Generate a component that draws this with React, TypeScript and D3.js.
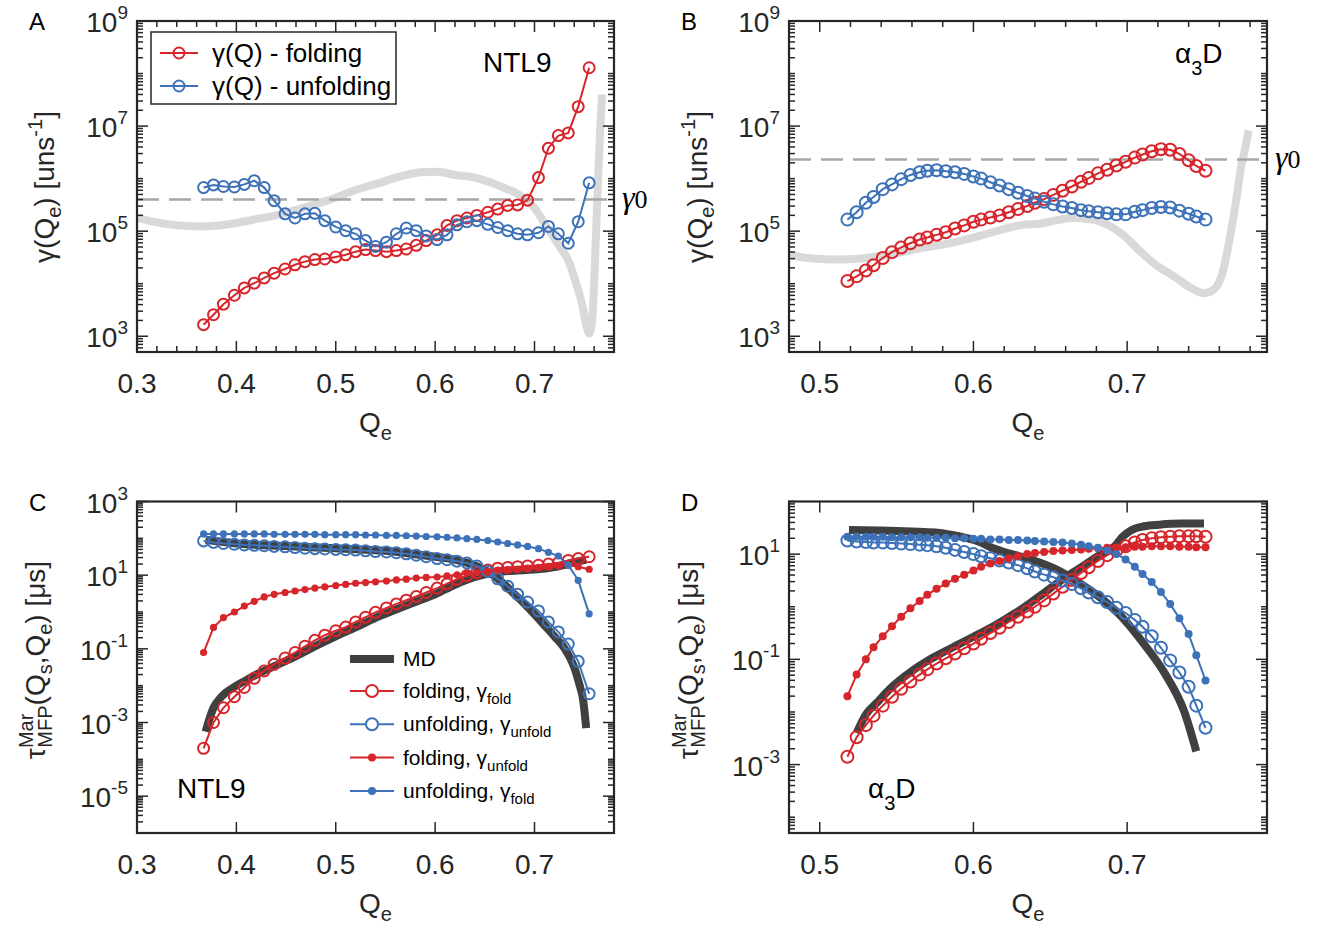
import React from "react";
import * as d3 from "d3";

// ---------- data: values are log10 of what the figure plots ----------

// NTL9 (panels A, C)
const qNTL9 = [
  0.367, 0.377, 0.387, 0.398, 0.408, 0.418, 0.428, 0.438, 0.449, 0.459,
  0.469, 0.479, 0.489, 0.5, 0.51, 0.52, 0.53, 0.54, 0.551, 0.561,
  0.571, 0.581, 0.591, 0.602, 0.612, 0.622, 0.632, 0.642, 0.653, 0.663,
  0.673, 0.683, 0.693, 0.704, 0.714, 0.724, 0.734, 0.744, 0.755,
];
const gammaFoldNTL9 = [
  3.22, 3.41, 3.61, 3.78, 3.92, 4.01, 4.11, 4.2, 4.28, 4.36,
  4.42, 4.46, 4.47, 4.51, 4.55, 4.61, 4.65, 4.63, 4.61, 4.63,
  4.66, 4.73, 4.82, 4.93, 5.11, 5.2, 5.25, 5.3, 5.36, 5.42,
  5.49, 5.5, 5.59, 6.02, 6.58, 6.82, 6.87, 7.37, 8.11,
];
const gammaUnfoldNTL9 = [
  5.83, 5.88, 5.85, 5.84, 5.89, 5.96, 5.83, 5.58, 5.33, 5.25,
  5.33, 5.34, 5.2, 5.08, 5.01, 4.95, 4.82, 4.71, 4.79, 4.95,
  5.06, 5.01, 4.91, 4.84, 4.93, 5.12, 5.18, 5.2, 5.13, 5.07,
  5.01, 4.95, 4.93, 4.97, 5.09, 4.95, 4.77, 5.18, 5.92,
];
const qProfileNTL9 = [
  0.3, 0.316, 0.341, 0.366, 0.392, 0.417, 0.442, 0.468, 0.493, 0.518,
  0.544, 0.569, 0.586, 0.603, 0.62, 0.637, 0.654, 0.67, 0.687, 0.7,
  0.713, 0.725, 0.735, 0.742, 0.748, 0.752, 0.755, 0.758, 0.76, 0.762,
  0.764, 0.766, 0.768,
];
const profileNTL9 = [
  5.26, 5.18, 5.11, 5.09, 5.13, 5.22, 5.31, 5.45, 5.59, 5.77,
  5.92, 6.06, 6.12, 6.13, 6.07, 6.03, 5.94, 5.82, 5.66, 5.44,
  5.06, 4.72, 4.4, 4.0, 3.6, 3.22, 3.05, 3.3, 4.0, 5.0,
  6.0, 6.9, 7.6,
];
const gamma0NTL9 = 4.0e5;

const tauFoldGfNTL9 = [
  -3.7, -3.0, -2.6, -2.3, -2.05, -1.8, -1.6, -1.42, -1.25, -1.1,
  -0.93, -0.77, -0.63, -0.51, -0.41, -0.27, -0.14, -0.01, 0.11, 0.22,
  0.32, 0.42, 0.53, 0.65, 0.77, 0.89, 0.99, 1.07, 1.14, 1.19,
  1.21, 1.23, 1.25, 1.27, 1.3, 1.34, 1.4, 1.45, 1.5,
];
const tauUnfoldGuNTL9 = [
  1.93, 1.89, 1.86, 1.84, 1.82, 1.81, 1.8, 1.78, 1.77, 1.75,
  1.73, 1.72, 1.71, 1.7, 1.69, 1.68, 1.66, 1.64, 1.63, 1.61,
  1.58, 1.54, 1.5, 1.45, 1.42, 1.38, 1.33, 1.25, 1.1, 0.9,
  0.7, 0.48, 0.27, 0.03, -0.27, -0.54, -0.87, -1.34, -2.22,
];
const tauFoldGuNTL9 = [
  -1.1, -0.42, -0.15, 0.0, 0.16, 0.29, 0.41, 0.48, 0.53, 0.57,
  0.61, 0.65, 0.68, 0.72, 0.75, 0.78, 0.8, 0.82, 0.84, 0.87,
  0.89, 0.92, 0.94, 0.95, 0.98, 1.01, 1.05, 1.07, 1.11, 1.14,
  1.15, 1.16, 1.19, 1.21, 1.24, 1.25, 1.27, 1.23, 1.16,
];
const tauUnfoldGfNTL9 = [
  2.12, 2.12, 2.12, 2.12, 2.12, 2.12, 2.12, 2.11, 2.11, 2.11,
  2.11, 2.11, 2.1, 2.1, 2.1, 2.1, 2.09, 2.09, 2.08, 2.08,
  2.07, 2.06, 2.05, 2.04, 2.03, 2.01, 1.99, 1.97, 1.94, 1.9,
  1.86, 1.82, 1.78, 1.72, 1.62, 1.52, 1.27, 0.86, -0.05,
];
const qMdFoldNTL9 = [
  0.369, 0.377, 0.385, 0.397, 0.41, 0.42, 0.44, 0.46, 0.48, 0.5, 0.52, 0.54,
  0.56, 0.58, 0.6, 0.62, 0.64, 0.66, 0.68, 0.7, 0.72, 0.74, 0.752,
];
const mdFoldNTL9 = [
  -3.25, -2.6, -2.3, -2.05, -1.85, -1.7, -1.45, -1.2, -0.92, -0.66, -0.42, -0.16,
  0.06, 0.27, 0.48, 0.74, 0.95, 1.07, 1.12, 1.15, 1.22, 1.35, 1.42,
];
const qMdUnfoldNTL9 = [
  0.369, 0.4, 0.45, 0.5, 0.55, 0.58, 0.6, 0.62, 0.64, 0.65, 0.66,
  0.67, 0.68, 0.69, 0.7, 0.71, 0.72, 0.73, 0.74, 0.745, 0.749, 0.752,
];
const mdUnfoldNTL9 = [
  1.96, 1.86, 1.79, 1.73, 1.66, 1.57, 1.5, 1.42, 1.26, 1.14, 0.97,
  0.74, 0.48, 0.22, -0.06, -0.36, -0.66, -0.98, -1.5, -1.95, -2.4, -3.15,
];

// alpha3D (panels B, D)
const qA3D = [
  0.518, 0.524, 0.53, 0.535, 0.541, 0.547, 0.553, 0.559, 0.565, 0.57,
  0.576, 0.582, 0.588, 0.594, 0.6, 0.605, 0.611, 0.617, 0.623, 0.629,
  0.635, 0.64, 0.646, 0.652, 0.658, 0.664, 0.67, 0.675, 0.681, 0.687,
  0.693, 0.699, 0.705, 0.71, 0.716, 0.722, 0.728, 0.734, 0.74, 0.745, 0.751,
];
const gammaFoldA3D = [
  4.05, 4.14, 4.25, 4.35, 4.49, 4.6, 4.69, 4.77, 4.84, 4.88,
  4.93, 4.98, 5.05, 5.11, 5.18, 5.22, 5.26, 5.3, 5.36, 5.42,
  5.48, 5.54, 5.61, 5.69, 5.77, 5.85, 5.94, 6.01, 6.1, 6.17,
  6.25, 6.32, 6.4, 6.46, 6.52, 6.56, 6.55, 6.47, 6.35, 6.24, 6.15,
];
const gammaUnfoldA3D = [
  5.22, 5.36, 5.54, 5.65, 5.8, 5.89, 5.99, 6.07, 6.12, 6.15,
  6.16, 6.14, 6.12, 6.09, 6.04, 6.0, 5.93, 5.87, 5.8, 5.73,
  5.67, 5.62, 5.56, 5.51, 5.47, 5.44, 5.4, 5.38, 5.36, 5.34,
  5.32, 5.32, 5.37, 5.4, 5.44, 5.46, 5.45, 5.39, 5.33, 5.28, 5.22,
];
const qProfileA3D = [
  0.48, 0.489, 0.5, 0.511, 0.522, 0.533, 0.544, 0.555, 0.566, 0.577,
  0.588, 0.599, 0.61, 0.621, 0.632, 0.643, 0.653, 0.664, 0.675, 0.686,
  0.697, 0.708, 0.719, 0.73, 0.741, 0.75, 0.756, 0.762, 0.767, 0.771,
  0.774, 0.777, 0.779,
];
const profileA3D = [
  4.56, 4.5, 4.47, 4.46, 4.47, 4.5, 4.55, 4.61, 4.68, 4.73,
  4.79, 4.87, 4.96, 5.05, 5.12, 5.14, 5.2, 5.25, 5.23, 5.14,
  4.94, 4.63, 4.35, 4.15, 3.93, 3.82, 3.88, 4.2, 4.9, 5.6,
  6.2, 6.6, 6.92,
];
const gamma0A3D = 2.3e6;

const tauFoldGfA3D = [
  -2.85, -2.48, -2.25, -2.07, -1.88, -1.71, -1.56, -1.42, -1.29, -1.19,
  -1.08, -0.98, -0.89, -0.79, -0.7, -0.61, -0.5, -0.4, -0.29, -0.19,
  -0.09, 0.0, 0.12, 0.25, 0.38, 0.51, 0.64, 0.75, 0.87, 0.98,
  1.07, 1.15, 1.22, 1.27, 1.3, 1.32, 1.33, 1.34, 1.34, 1.34, 1.33,
];
const tauUnfoldGuA3D = [
  1.26, 1.24, 1.23, 1.22, 1.22, 1.21, 1.2, 1.19, 1.18, 1.17,
  1.15, 1.12, 1.08, 1.04, 1.0, 0.96, 0.92, 0.88, 0.84, 0.79,
  0.73, 0.67, 0.61, 0.56, 0.5, 0.43, 0.35, 0.27, 0.18, 0.09,
  -0.02, -0.12, -0.25, -0.38, -0.56, -0.78, -1.02, -1.25, -1.52, -1.88, -2.3,
];
const tauFoldGuA3D = [
  -1.7, -1.29, -1.0, -0.77, -0.56, -0.37, -0.19, -0.03, 0.11, 0.23,
  0.34, 0.44, 0.53, 0.61, 0.69, 0.76, 0.82, 0.87, 0.92, 0.96,
  1.0, 1.02, 1.04, 1.06, 1.07, 1.08, 1.09, 1.1, 1.11, 1.12,
  1.12, 1.13, 1.14, 1.14, 1.15, 1.15, 1.15, 1.14, 1.14, 1.13, 1.13,
];
const tauUnfoldGfA3D = [
  1.33, 1.33, 1.33, 1.33, 1.33, 1.32, 1.32, 1.32, 1.32, 1.31,
  1.31, 1.31, 1.3, 1.3, 1.29, 1.29, 1.28, 1.28, 1.27, 1.27,
  1.26, 1.25, 1.24, 1.23, 1.22, 1.2, 1.18, 1.15, 1.12, 1.07,
  1.0, 0.9, 0.76, 0.62, 0.47, 0.28, 0.05, -0.22, -0.52, -0.92, -1.4,
];
const qMdFoldA3D = [
  0.524, 0.53, 0.538, 0.545, 0.552, 0.56, 0.57, 0.58, 0.59, 0.6, 0.61, 0.62,
  0.63, 0.643, 0.656, 0.67, 0.684, 0.692, 0.697, 0.703, 0.711, 0.721, 0.735, 0.75,
];
const mdFoldA3D = [
  -2.4, -2.05, -1.8, -1.58, -1.4, -1.22, -1.03, -0.87, -0.72, -0.57, -0.42, -0.25,
  -0.07, 0.2, 0.48, 0.75, 1.02, 1.15, 1.33, 1.46, 1.53, 1.56, 1.58, 1.58,
];
const qMdUnfoldA3D = [
  0.519, 0.54, 0.56, 0.575, 0.585, 0.595, 0.605, 0.612, 0.62, 0.63,
  0.643, 0.656, 0.67, 0.684, 0.697, 0.711, 0.725, 0.737, 0.745,
];
const mdUnfoldA3D = [
  1.46, 1.45, 1.43, 1.41, 1.37, 1.31, 1.22, 1.12, 1.04, 0.96,
  0.84, 0.68, 0.43, 0.14, -0.21, -0.71, -1.29, -1.98, -2.75,
];

const xTicksNTL9 = [0.3, 0.4, 0.5, 0.6, 0.7];
const xTicksA3D = [0.5, 0.6, 0.7];

// ---------- styling ----------
const RED = "#d7262b";
const BLUE = "#3d72b8";
const AXIS = "#262626";
const PROFILE = "#d9d9d9";
const MD = "#404040";
const FONT = "'Liberation Sans', Arial, Helvetica, sans-serif";
const SERIF = "'Liberation Serif', 'DejaVu Serif', serif";
const TICK_MAJ = 11;
const TICK_MIN = 6;

type Box = { left: number; right: number; top: number; bottom: number };
type Sx = d3.ScaleLinear<number, number>;
type Sy = d3.ScaleLogarithmic<number, number>;

const boxA: Box = { left: 137, right: 614, top: 21, bottom: 352 };
const boxB: Box = { left: 789, right: 1267, top: 21, bottom: 352 };
const boxC: Box = { left: 137, right: 614, top: 501.5, bottom: 833 };
const boxD: Box = { left: 789, right: 1267, top: 501.5, bottom: 833 };

function minorTicks(lo: number, hi: number) {
  return d3
    .range(Math.round(lo * 50), Math.round(hi * 50) + 1)
    .map((k) => k / 50)
    .filter((v) => Math.abs(v * 10 - Math.round(v * 10)) > 1e-6);
}

function linePath(x: Sx, y: Sy, qs: number[], vals: number[], curve = d3.curveLinear) {
  return (
    d3
      .line<number>()
      .x((_, i) => x(qs[i]))
      .y((v) => y(10 ** v))
      .curve(curve)(vals) || ""
  );
}

function Series(props: {
  x: Sx; y: Sy; qs: number[]; vals: number[]; color: string; filled?: boolean; r: number;
}) {
  const { x, y, qs, vals, color, filled, r } = props;
  return (
    <g>
      <path d={linePath(x, y, qs, vals)} fill="none" stroke={color} strokeWidth={2} />
      {vals.map((v, i) => (
        <circle
          key={i}
          cx={x(qs[i])}
          cy={y(10 ** v)}
          r={r}
          fill={filled ? color : "none"}
          stroke={color}
          strokeWidth={filled ? 0 : 2}
        />
      ))}
    </g>
  );
}

function Panel(props: {
  box: Box;
  xDomain: [number, number];
  yDomain: [number, number];
  xMajor: number[];
  xMinor: number[];
  yLabeled: number[];
  letter: string;
  yLabel: React.ReactNode;
  yLabelX: number;
  yLabelY: number;
  children: (x: Sx, y: Sy) => React.ReactNode;
}) {
  const { box, xDomain, yDomain, xMajor, xMinor, yLabeled, letter, yLabel, yLabelX, yLabelY } = props;
  const x = d3.scaleLinear().domain(xDomain).range([box.left, box.right]);
  const y = d3.scaleLog().domain(yDomain).range([box.bottom, box.top]);

  const ticks: React.ReactNode[] = [];
  xMajor.concat(xMinor).forEach((v, i) => {
    const len = i < xMajor.length ? TICK_MAJ : TICK_MIN;
    const px = x(v);
    ticks.push(<line key={`xb${i}`} x1={px} x2={px} y1={box.bottom} y2={box.bottom - len} />);
    ticks.push(<line key={`xt${i}`} x1={px} x2={px} y1={box.top} y2={box.top + len} />);
  });
  const lo = Math.floor(Math.log10(yDomain[0]));
  const hi = Math.ceil(Math.log10(yDomain[1]));
  for (let n = lo; n <= hi; n++) {
    for (let k = 1; k < 10; k++) {
      const v = k * 10 ** n;
      if (v < yDomain[0] * 0.9999 || v > yDomain[1] * 1.0001) continue;
      const len = k === 1 && yLabeled.includes(n) ? TICK_MAJ : TICK_MIN;
      const py = y(v);
      ticks.push(<line key={`yl${n}_${k}`} x1={box.left} x2={box.left + len} y1={py} y2={py} />);
      ticks.push(<line key={`yr${n}_${k}`} x1={box.right} x2={box.right - len} y1={py} y2={py} />);
    }
  }

  return (
    <g>
      {props.children(x, y)}
      <g stroke={AXIS} strokeWidth={1.5}>{ticks}</g>
      <rect
        x={box.left}
        y={box.top}
        width={box.right - box.left}
        height={box.bottom - box.top}
        fill="none"
        stroke={AXIS}
        strokeWidth={2.2}
      />
      <g fill={AXIS} fontSize={28}>
        {xMajor.map((v) => (
          <text key={v} x={x(v)} y={box.bottom + 41} textAnchor="middle">
            {d3.format(".1f")(v)}
          </text>
        ))}
        {yLabeled.map((n) => (
          <text key={n} x={box.left - 9} y={y(10 ** n) + 11} textAnchor="end">
            10<tspan dy={-13} fontSize={19}>{n < 0 ? `-${-n}` : n}</tspan>
          </text>
        ))}
        <text x={(box.left + box.right) / 2} y={box.bottom + 80} textAnchor="middle">
          Q<tspan dy={8} fontSize={20}>e</tspan>
        </text>
        <text transform={`translate(${yLabelX},${yLabelY}) rotate(-90)`} textAnchor="middle">
          {yLabel}
        </text>
      </g>
      <text x={box.left - 108} y={box.top + 9} fontSize={24} fill="#000">
        {letter}
      </text>
    </g>
  );
}

const gammaLabel = (
  <>
    γ(Q<tspan dy={7} fontSize={20}>e</tspan>
    <tspan dy={-7}>) [uns</tspan>
    <tspan dy={-12} fontSize={20}>-1</tspan>
    <tspan dy={12}>]</tspan>
  </>
);

const tauLabel = (
  <>
    τ<tspan dy={-12} fontSize={20}>Mar</tspan>
    <tspan dx={-34} dy={19} fontSize={20}>MFP</tspan>
    <tspan dy={-7}>(Q</tspan>
    <tspan dy={7} fontSize={20}>s</tspan>
    <tspan dy={-7}>,Q</tspan>
    <tspan dy={7} fontSize={20}>e</tspan>
    <tspan dy={-7}>) [μs]</tspan>
  </>
);

function Gamma0({ box, yv }: { box: Box; yv: number }) {
  return (
    <text x={box.right + 8} y={yv + 8} fontFamily={SERIF} fontSize={32} fill="#000">
      <tspan fontStyle="italic">γ</tspan>
      <tspan fontSize={26}>0</tspan>
    </text>
  );
}

const legendC = [
  { label: "folding, γ", sub: "fold", color: RED, filled: false },
  { label: "unfolding, γ", sub: "unfold", color: BLUE, filled: false },
  { label: "folding, γ", sub: "unfold", color: RED, filled: true },
  { label: "unfolding, γ", sub: "fold", color: BLUE, filled: true },
];

export default function App() {
  return (
    <svg
      width={1320}
      height={931}
      style={{ position: "absolute", left: 0, top: 0, background: "#fff" }}
      fontFamily={FONT}
    >
      {/* A */}
      <Panel
        box={boxA}
        xDomain={[0.3, 0.78]}
        yDomain={[10 ** 2.7, 1e9]}
        xMajor={xTicksNTL9}
        xMinor={minorTicks(0.3, 0.78)}
        yLabeled={[3, 5, 7, 9]}
        letter="A"
        yLabel={gammaLabel}
        yLabelX={54}
        yLabelY={187}
      >
        {(x, y) => (
          <>
            <path
              d={linePath(x, y, qProfileNTL9, profileNTL9, d3.curveMonotoneX)}
              fill="none"
              stroke={PROFILE}
              strokeWidth={8}
              strokeLinejoin="round"
            />
            <line
              x1={boxA.left}
              x2={boxA.right}
              y1={y(gamma0NTL9)}
              y2={y(gamma0NTL9)}
              stroke="#a6a6a6"
              strokeWidth={2.5}
              strokeDasharray="22 10"
            />
            <Series x={x} y={y} qs={qNTL9} vals={gammaFoldNTL9} color={RED} r={5.5} />
            <Series x={x} y={y} qs={qNTL9} vals={gammaUnfoldNTL9} color={BLUE} r={5.5} />
            <rect x={151} y={32} width={245} height={72} fill="#fff" stroke={AXIS} strokeWidth={1.5} />
            {[
              { t: "γ(Q) - folding", c: RED, yy: 53 },
              { t: "γ(Q) - unfolding", c: BLUE, yy: 86 },
            ].map((d) => (
              <g key={d.t}>
                <line x1={160} x2={198} y1={d.yy} y2={d.yy} stroke={d.c} strokeWidth={2} />
                <circle cx={179} cy={d.yy} r={5.5} fill="none" stroke={d.c} strokeWidth={2} />
                <text x={212} y={d.yy + 9} fontSize={26} fill="#000">
                  {d.t}
                </text>
              </g>
            ))}
            <text x={483} y={72} fontSize={28} fill="#000">
              NTL9
            </text>
            <Gamma0 box={boxA} yv={y(gamma0NTL9)} />
          </>
        )}
      </Panel>

      {/* B */}
      <Panel
        box={boxB}
        xDomain={[0.48, 0.791]}
        yDomain={[10 ** 2.7, 1e9]}
        xMajor={xTicksA3D}
        xMinor={minorTicks(0.48, 0.79)}
        yLabeled={[3, 5, 7, 9]}
        letter="B"
        yLabel={gammaLabel}
        yLabelX={707}
        yLabelY={187}
      >
        {(x, y) => (
          <>
            <path
              d={linePath(x, y, qProfileA3D, profileA3D, d3.curveMonotoneX)}
              fill="none"
              stroke={PROFILE}
              strokeWidth={8}
              strokeLinejoin="round"
            />
            <line
              x1={boxB.left}
              x2={boxB.right}
              y1={y(gamma0A3D)}
              y2={y(gamma0A3D)}
              stroke="#a6a6a6"
              strokeWidth={2.5}
              strokeDasharray="22 10"
            />
            <Series x={x} y={y} qs={qA3D} vals={gammaFoldA3D} color={RED} r={6} />
            <Series x={x} y={y} qs={qA3D} vals={gammaUnfoldA3D} color={BLUE} r={6} />
            <text x={1175} y={63} fontSize={28} fill="#000">
              α<tspan dy={12} fontSize={20}>3</tspan>
              <tspan dy={-12}>D</tspan>
            </text>
            <Gamma0 box={boxB} yv={y(gamma0A3D)} />
          </>
        )}
      </Panel>

      {/* C */}
      <Panel
        box={boxC}
        xDomain={[0.3, 0.78]}
        yDomain={[1e-6, 1e3]}
        xMajor={xTicksNTL9}
        xMinor={[]}
        yLabeled={[3, 1, -1, -3, -5]}
        letter="C"
        yLabel={tauLabel}
        yLabelX={45}
        yLabelY={660}
      >
        {(x, y) => (
          <>
            <path d={linePath(x, y, qMdFoldNTL9, mdFoldNTL9, d3.curveMonotoneX)} fill="none" stroke={MD} strokeWidth={8} />
            <path d={linePath(x, y, qMdUnfoldNTL9, mdUnfoldNTL9, d3.curveMonotoneX)} fill="none" stroke={MD} strokeWidth={8} />
            <Series x={x} y={y} qs={qNTL9} vals={tauFoldGfNTL9} color={RED} r={5.5} />
            <Series x={x} y={y} qs={qNTL9} vals={tauUnfoldGuNTL9} color={BLUE} r={5.5} />
            <Series x={x} y={y} qs={qNTL9} vals={tauFoldGuNTL9} color={RED} r={3.6} filled />
            <Series x={x} y={y} qs={qNTL9} vals={tauUnfoldGfNTL9} color={BLUE} r={3.6} filled />
            <g fontSize={21} fill="#000">
              <line x1={350} x2={394} y1={659} y2={659} stroke={MD} strokeWidth={8} />
              <text x={403} y={666}>MD</text>
              {legendC.map((d, i) => {
                const yy = 691 + i * 33.3;
                return (
                  <g key={i}>
                    <line x1={350} x2={394} y1={yy} y2={yy} stroke={d.color} strokeWidth={2} />
                    <circle
                      cx={372}
                      cy={yy}
                      r={d.filled ? 4 : 6}
                      fill={d.filled ? d.color : "#fff"}
                      stroke={d.color}
                      strokeWidth={d.filled ? 0 : 2}
                    />
                    <text x={403} y={yy + 7}>
                      {d.label}
                      <tspan dy={6} fontSize={15}>{d.sub}</tspan>
                    </text>
                  </g>
                );
              })}
            </g>
            <text x={177} y={798} fontSize={28} fill="#000">
              NTL9
            </text>
          </>
        )}
      </Panel>

      {/* D */}
      <Panel
        box={boxD}
        xDomain={[0.48, 0.791]}
        yDomain={[10 ** -4.3, 1e2]}
        xMajor={xTicksA3D}
        xMinor={[]}
        yLabeled={[1, -1, -3]}
        letter="D"
        yLabel={tauLabel}
        yLabelX={698}
        yLabelY={660}
      >
        {(x, y) => (
          <>
            <path d={linePath(x, y, qMdFoldA3D, mdFoldA3D, d3.curveMonotoneX)} fill="none" stroke={MD} strokeWidth={8} />
            <path d={linePath(x, y, qMdUnfoldA3D, mdUnfoldA3D, d3.curveMonotoneX)} fill="none" stroke={MD} strokeWidth={8} />
            <Series x={x} y={y} qs={qA3D} vals={tauFoldGfA3D} color={RED} r={6} />
            <Series x={x} y={y} qs={qA3D} vals={tauUnfoldGuA3D} color={BLUE} r={6} />
            <Series x={x} y={y} qs={qA3D} vals={tauFoldGuA3D} color={RED} r={4} filled />
            <Series x={x} y={y} qs={qA3D} vals={tauUnfoldGfA3D} color={BLUE} r={4} filled />
            <text x={868} y={798} fontSize={28} fill="#000">
              α<tspan dy={12} fontSize={20}>3</tspan>
              <tspan dy={-12}>D</tspan>
            </text>
          </>
        )}
      </Panel>
    </svg>
  );
}
